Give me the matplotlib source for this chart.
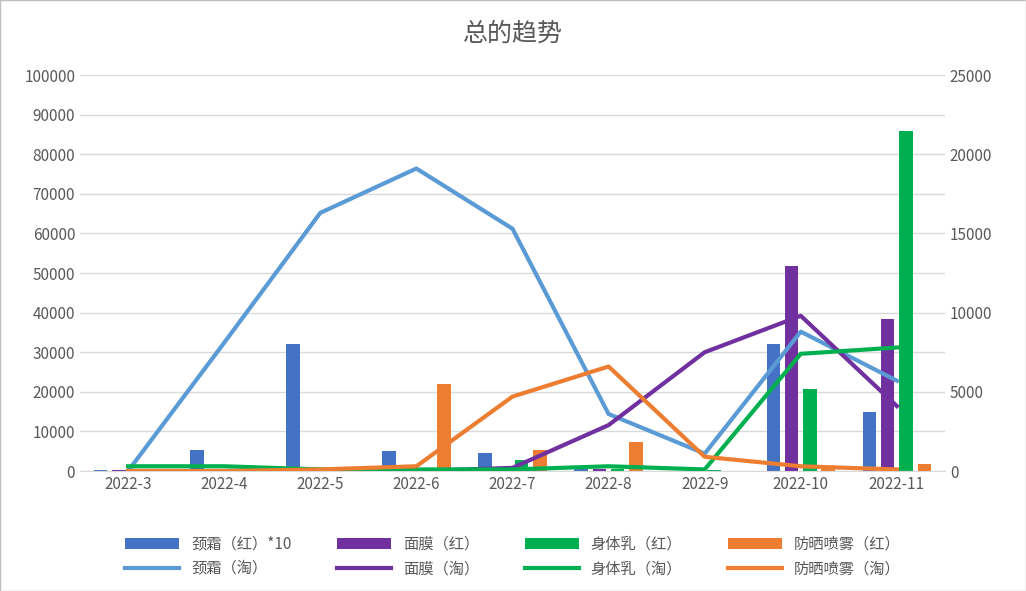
import matplotlib.pyplot as plt
import numpy as np

plt.rcParams["font.family"] = "sans-serif"
plt.rcParams["font.sans-serif"] = ["Noto Sans CJK SC", "Noto Sans CJK JP", "DejaVu Sans"]

months = ["2022-3", "2022-4", "2022-5", "2022-6", "2022-7", "2022-8", "2022-9", "2022-10", "2022-11"]

# bars (left axis)
neck_red = [300, 5200, 32200, 5000, 4600, 800, 0, 32000, 14800]
mask_red = [200, 0, 0, 0, 0, 500, 0, 51800, 38500]
body_red = [0, 0, 0, 0, 2800, 400, 300, 20800, 85800]
sun_red = [0, 0, 0, 22000, 5300, 7300, 0, 1200, 1700]

# lines (right axis)
neck_tao = [0, 8100, 16300, 19100, 15300, 3600, 1100, 8800, 5700]
mask_tao = [0, 0, 0, 0, 200, 2900, 7500, 9800, 4100]
body_tao = [300, 300, 100, 100, 100, 300, 100, 7400, 7800]
sun_tao = [0, 0, 100, 300, 4700, 6600, 900, 300, 100]

c_blue, c_purple, c_green, c_orange, c_lblue = "#4472C4", "#7030A0", "#00B050", "#ED7D31", "#5B9BD5"

fig = plt.figure(figsize=(10.26, 5.91), dpi=100)
ax = fig.add_axes([0.078, 0.203, 0.843, 0.67])
ax2 = ax.twinx()

x = np.arange(len(months))
w = 0.14
for i, (vals, col, lab) in enumerate([(neck_red, c_blue, "颈霜（红）*10"), (mask_red, c_purple, "面膜（红）"),
                                      (body_red, c_green, "身体乳（红）"), (sun_red, c_orange, "防晒喷雾（红）")]):
    ax.bar(x + (i - 1.5) * 0.19, vals, w, color=col, label=lab, zorder=2)

for vals, col, lab in [(neck_tao, c_lblue, "颈霜（淘）"), (mask_tao, c_purple, "面膜（淘）"),
                       (body_tao, c_green, "身体乳（淘）"), (sun_tao, c_orange, "防晒喷雾（淘）")]:
    ax2.plot(x, vals, color=col, lw=3, label=lab, zorder=3)

ax.set_ylim(0, 100000)
ax.set_yticks(range(0, 100001, 10000))
ax2.set_ylim(0, 25000)
ax2.set_yticks(range(0, 25001, 5000))
ax.set_xlim(-0.5, len(months) - 0.5)
ax.set_xticks(x)
ax.set_xticklabels(months)
ax.yaxis.grid(True, color="#D9D9D9", lw=1)
ax.set_axisbelow(True)
for a in (ax, ax2):
    for s in a.spines.values():
        s.set_visible(False)
    a.tick_params(length=0, labelsize=11, colors="#595959")
ax.spines["bottom"].set_visible(True)
ax.spines["bottom"].set_color("#D9D9D9")

fig.suptitle("总的趋势", y=0.965, fontsize=18, color="#595959")

h1, l1 = ax.get_legend_handles_labels()
h2, l2 = ax2.get_legend_handles_labels()
handles, labels = [], []
for i in range(4):
    handles += [h1[i], h2[i]]
    labels += [l1[i], l2[i]]
fig.legend(handles, labels, loc="lower center", ncol=4, frameon=False, fontsize=11,
           bbox_to_anchor=(0.5, 0.0), columnspacing=3, handlelength=3.5, labelcolor="#595959")

fig.patches.append(plt.Rectangle((0, 0), 1, 1, transform=fig.transFigure, fill=False, ec="#BFBFBF", lw=1))
fig.savefig("out.png")
